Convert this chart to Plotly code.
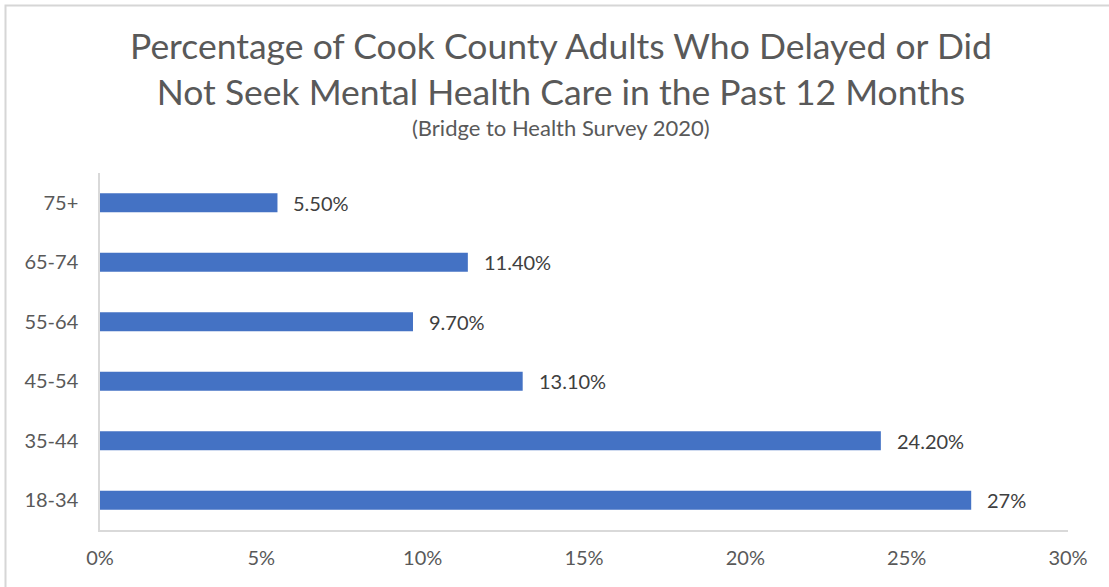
import plotly.graph_objects as go

# Age groups (bottom to top) and share who delayed / did not seek care
age_groups = ["18-34", "35-44", "45-54", "55-64", "65-74", "75+"]
pct_values = [27.0, 24.2, 13.1, 9.7, 11.4, 5.5]
pct_labels = ["27%", "24.20%", "13.10%", "9.70%", "11.40%", "5.50%"]
x_ticks = [0, 5, 10, 15, 20, 25, 30]
x_tick_text = ["0%", "5%", "10%", "15%", "20%", "25%", "30%"]

FONT = "Lato, 'Open Sans', sans-serif"
GRAY = "#595959"
W, H = 1109, 587

fig = go.Figure(
    go.Bar(
        x=pct_values,
        y=age_groups,
        orientation="h",
        width=0.32,
        marker=dict(color="#4472C4", line=dict(width=0)),
        hoverinfo="skip",
    )
)

# chart frame (left and top edges) on a full-page overlay in pixel units
fig.add_trace(
    go.Scatter(
        x=[5.5, 5.5, W + 10],
        y=[-10, H - 5.5, H - 5.5],
        mode="lines",
        line=dict(color="#d6d6d6", width=2),
        xaxis="x2",
        yaxis="y2",
        hoverinfo="skip",
        cliponaxis=False,
    )
)

# value labels placed just past the end of each bar
value_annotations = [
    dict(
        x=v, y=cat, xref="x", yref="y",
        text=lab, showarrow=False,
        xanchor="left", yanchor="middle", xshift=14,
        font=dict(family=FONT, size=20, color="#404040"),
    )
    for v, cat, lab in zip(pct_values, age_groups, pct_labels)
]

fig.update_layout(
    width=W,
    height=H,
    margin=dict(l=0, r=0, t=0, b=0),
    paper_bgcolor="white",
    plot_bgcolor="rgba(0,0,0,0)",
    showlegend=False,
    font=dict(family=FONT, color=GRAY),
    xaxis=dict(
        domain=[100 / W, 1068 / W],
        range=[0, 30],
        tickvals=x_ticks,
        ticktext=x_tick_text,
        showgrid=False,
        zeroline=False,
        showline=True,
        linecolor="#d9d9d9",
        linewidth=1.5,
        ticks="",
        ticklabelstandoff=9,
        tickfont=dict(family=FONT, size=20, color=GRAY),
        automargin=False,
    ),
    yaxis=dict(
        domain=[57 / H, (H - 173) / H],
        categoryorder="array",
        categoryarray=age_groups,
        showgrid=False,
        zeroline=False,
        showline=True,
        linecolor="#d9d9d9",
        linewidth=1.5,
        ticks="",
        ticklabelstandoff=16,
        tickfont=dict(family=FONT, size=20, color=GRAY),
        automargin=False,
    ),
    xaxis2=dict(domain=[0, 1], range=[0, W], visible=False, anchor="y2",
                fixedrange=True),
    yaxis2=dict(domain=[0, 1], range=[0, H], visible=False, anchor="x2",
                fixedrange=True),
    annotations=value_annotations + [
        dict(
            text="Percentage of Cook County Adults Who Delayed or Did<br>Not Seek Mental Health Care in the Past 12 Months",
            xref="paper", yref="paper",
            x=561 / W, y=1 - 68.5 / H,
            xanchor="center", yanchor="middle",
            showarrow=False,
            font=dict(family=FONT, size=35.5, color=GRAY),
        ),
        dict(
            text="(Bridge to Health Survey 2020)",
            xref="paper", yref="paper",
            x=561 / W, y=1 - 128 / H,
            xanchor="center", yanchor="middle",
            showarrow=False,
            font=dict(family=FONT, size=22, color=GRAY),
        ),
    ],
)

fig.write_html("out.html")
